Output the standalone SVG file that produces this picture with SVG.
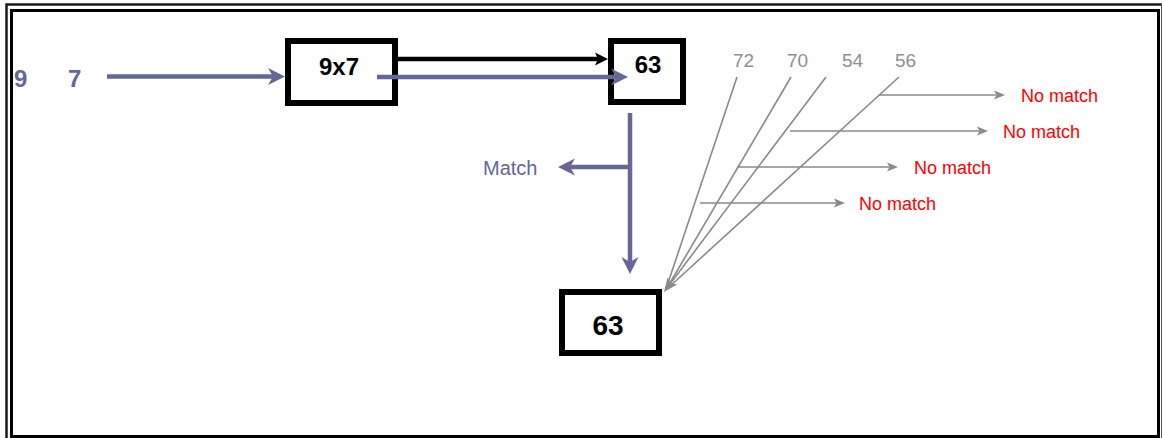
<svg xmlns="http://www.w3.org/2000/svg" width="1162" height="438" viewBox="0 0 1162 438">
  <style>
    .box { fill: #ffffff; stroke: #000000; stroke-width: 6; }
    .bold { font-family: "Liberation Sans", Arial, sans-serif; font-weight: bold; fill: #000000; }
    .inp { font-family: "Liberation Sans", Arial, sans-serif; font-weight: bold; font-size: 24px; fill: #666699; }
    .cand { font-family: "Liberation Sans", Arial, sans-serif; font-size: 19px; fill: #8f8f8f; }
    .nomatch { font-family: "Liberation Sans", Arial, sans-serif; font-size: 18px; fill: #ff0000; }
    .match { font-family: "Liberation Sans", Arial, sans-serif; font-size: 20px; fill: #666699; }
    .flow { fill: none; stroke: #666699; stroke-width: 4.5; }
    .blk { fill: none; stroke: #000000; stroke-width: 4.5; }
    .thin { fill: none; stroke: #8a8a8a; stroke-width: 1.6; }
  </style>
  <defs>
    <!-- each marker is anchored at its notch; lines stop at the notch -->
    <marker id="headPurple" markerUnits="userSpaceOnUse" markerWidth="18" markerHeight="18" refX="5" refY="8.5" orient="auto" viewBox="0 0 18 17" overflow="visible">
      <path d="M0,0 L17,8.5 L0,17 L5,8.5 z" fill="#666699"/>
    </marker>
    <marker id="headBlack" markerUnits="userSpaceOnUse" markerWidth="14" markerHeight="14" refX="3" refY="6.5" orient="auto" viewBox="0 0 14 13" overflow="visible">
      <path d="M0,0 L13,6.5 L0,13 L3,6.5 z" fill="#000000"/>
    </marker>
    <marker id="headGray" markerUnits="userSpaceOnUse" markerWidth="12" markerHeight="10" refX="2.5" refY="4.5" orient="auto" viewBox="0 0 12 9" overflow="visible">
      <path d="M0,0 L11,4.5 L0,9 L2.5,4.5 z" fill="#8a8a8a"/>
    </marker>
    <marker id="headGrayLarge" markerUnits="userSpaceOnUse" markerWidth="15" markerHeight="13" refX="3" refY="6" orient="auto" viewBox="0 0 15 12" overflow="visible">
      <path d="M0,0 L14,6 L0,12 L3,6 z" fill="#8a8a8a"/>
    </marker>
  </defs>

  <rect width="1162" height="438" fill="#ffffff"/>

  <!-- double frame -->
  <g id="frame" fill="none">
    <path d="M6.5,438 V4.5 H1162" stroke="#1a1a1a" stroke-width="2.5"/>
    <path d="M1161.5,4 V438" stroke="#555555" stroke-width="1"/>
    <rect x="11.5" y="10.5" width="1147" height="426" stroke="#000000" stroke-width="3"/>
  </g>

  <!-- input digits -->
  <g id="inputs">
    <text class="inp" x="14" y="87">9</text>
    <text class="inp" x="68" y="87">7</text>
  </g>

  <!-- connectors -->
  <g id="connectors">
    <line class="flow" x1="107" y1="76.5" x2="273" y2="76.5" marker-end="url(#headPurple)"/>
    <line class="blk" x1="396" y1="59" x2="598" y2="59" marker-end="url(#headBlack)"/>
    <line class="flow" x1="630" y1="113" x2="630" y2="262" marker-end="url(#headPurple)"/>
    <line class="flow" x1="630" y1="167" x2="570" y2="167" marker-end="url(#headPurple)"/>

    <line class="thin" x1="737" y1="77" x2="666" y2="289"/>
    <line class="thin" x1="791" y1="77" x2="667" y2="288"/>
    <line class="thin" x1="899" y1="77" x2="668" y2="288"/>
    <line class="thin" x1="826" y1="77" x2="670.6" y2="283.2" marker-end="url(#headGrayLarge)"/>

    <line class="thin" x1="879" y1="95" x2="996.5" y2="95" marker-end="url(#headGray)"/>
    <line class="thin" x1="790" y1="131" x2="979.5" y2="131" marker-end="url(#headGray)"/>
    <line class="thin" x1="737" y1="167" x2="889.5" y2="167" marker-end="url(#headGray)"/>
    <line class="thin" x1="700" y1="203" x2="836.5" y2="203" marker-end="url(#headGray)"/>
  </g>

  <g id="node-multiply">
    <rect class="box" x="288" y="41" width="107" height="62"/>
    <text class="bold" x="339" y="75" font-size="24" text-anchor="middle">9x7</text>
  </g>

  <g id="node-product">
    <rect class="box" x="611" y="41" width="72" height="61"/>
    <text class="bold" x="648" y="73" font-size="24" text-anchor="middle">63</text>
  </g>

  <!-- purple carry line drawn over the multiply box edge -->
  <g id="connector-carry">
    <line class="flow" x1="377" y1="77" x2="616" y2="77" marker-end="url(#headPurple)"/>
  </g>

  <g id="node-result">
    <rect class="box" x="562" y="292" width="97" height="61"/>
    <text class="bold" x="608" y="335" font-size="28" text-anchor="middle">63</text>
  </g>

  <g id="label-match">
    <text class="match" x="483" y="175">Match</text>
  </g>

  <g id="candidates">
    <text class="cand" x="733" y="67">72</text>
    <text class="cand" x="787" y="67">70</text>
    <text class="cand" x="842" y="67">54</text>
    <text class="cand" x="895" y="67">56</text>
  </g>

  <g id="labels-nomatch">
    <text class="nomatch" x="1021" y="102">No match</text>
    <text class="nomatch" x="1003" y="138">No match</text>
    <text class="nomatch" x="914" y="174">No match</text>
    <text class="nomatch" x="859" y="210">No match</text>
  </g>
</svg>
